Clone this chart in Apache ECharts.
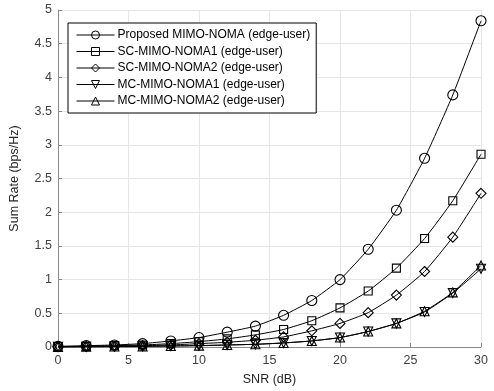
<!DOCTYPE html>
<html><head><meta charset="utf-8">
<script src="https://cdn.jsdelivr.net/npm/echarts@6/dist/echarts.min.js"></script>
<style>html,body{margin:0;padding:0;background:#fff}#c{width:494px;height:391px}</style>
</head><body><div id="c"></div>
<script>
const snr = [0,2,4,6,8,10,12,14,16,18,20,22,24,26,28,30];
const proposed = [0.01,0.02,0.03,0.05,0.09,0.14,0.22,0.31,0.47,0.69,1.00,1.45,2.03,2.80,3.74,4.84];
const sc1 = [0.005,0.01,0.02,0.03,0.05,0.08,0.12,0.18,0.26,0.39,0.58,0.83,1.17,1.61,2.17,2.86];
const sc2 = [0.003,0.007,0.012,0.02,0.03,0.05,0.07,0.10,0.15,0.24,0.35,0.51,0.77,1.12,1.63,2.28];
const mc1 = [0.002,0.004,0.007,0.01,0.015,0.02,0.03,0.04,0.06,0.09,0.14,0.23,0.35,0.52,0.80,1.16];
const mc2 = [0.002,0.004,0.007,0.01,0.015,0.02,0.03,0.04,0.06,0.09,0.14,0.23,0.35,0.53,0.81,1.21];
const names = ['Proposed MIMO-NOMA (edge-user)','SC-MIMO-NOMA1 (edge-user)','SC-MIMO-NOMA2 (edge-user)','MC-MIMO-NOMA1 (edge-user)','MC-MIMO-NOMA2 (edge-user)'];
const seriesData = [proposed, sc1, sc2, mc1, mc2];
const symbols = ['circle','rect','diamond','triangle','triangle'];
const rotates = [0,0,0,180,0];
const sizes = [10,8,10,9,9];
const FONT = 'Liberation Sans, Arial, sans-serif';
const chart = echarts.init(document.getElementById('c'));
chart.setOption({
  animation:false,
  backgroundColor:'#fff',
  grid:{left:54,right:13,top:10,bottom:44,containLabel:false},
  legend:{
    orient:'vertical', left:68, top:23,
    itemWidth:38, itemHeight:10, itemGap:4.5,
    padding:[6,6,6,8],
    borderColor:'#000', borderWidth:1, backgroundColor:'#fff',
    lineStyle:{width:1,color:'#000'},
    itemStyle:{borderWidth:1},
    textStyle:{fontFamily:FONT,fontSize:12,color:'#000',padding:[0,0,0,-2]},
    data:names
  },
  xAxis:{
    type:'value', min:0, max:30, interval:5,
    name:'SNR (dB)', nameLocation:'middle', nameGap:26,
    nameTextStyle:{fontFamily:FONT,fontSize:12.5,color:'#262626'},
    axisLine:{show:true,onZero:false,lineStyle:{color:'#888',width:1}},
    axisTick:{show:true,inside:true,length:4,lineStyle:{color:'#888'}},
    axisLabel:{fontFamily:FONT,fontSize:12.5,color:'#404040',margin:7},
    splitLine:{show:true,lineStyle:{color:'#e6e6e6',width:1}}
  },
  yAxis:{
    type:'value', min:0, max:5, interval:0.5,
    name:'Sum Rate (bps/Hz)', nameLocation:'middle', nameGap:37,
    nameTextStyle:{fontFamily:FONT,fontSize:12.5,color:'#262626'},
    axisLine:{show:true,lineStyle:{color:'#888',width:1}},
    axisTick:{show:true,inside:true,length:4,lineStyle:{color:'#888'}},
    axisLabel:{fontFamily:FONT,fontSize:12.5,color:'#404040',margin:6},
    splitLine:{show:true,lineStyle:{color:'#e6e6e6',width:1}}
  },
  series: names.map((n,i)=>({
    name:n, type:'line',
    data: snr.map((x,j)=>[x, seriesData[i][j]]),
    symbol:symbols[i], symbolRotate:rotates[i], symbolSize:sizes[i],
    showAllSymbol:true, smooth:0.15,
    lineStyle:{color:'#000',width:1},
    itemStyle:{color:'rgba(255,255,255,0)',borderColor:'#000',borderWidth:1.1},
    emphasis:{disabled:true}
  }))
});
</script></body></html>
